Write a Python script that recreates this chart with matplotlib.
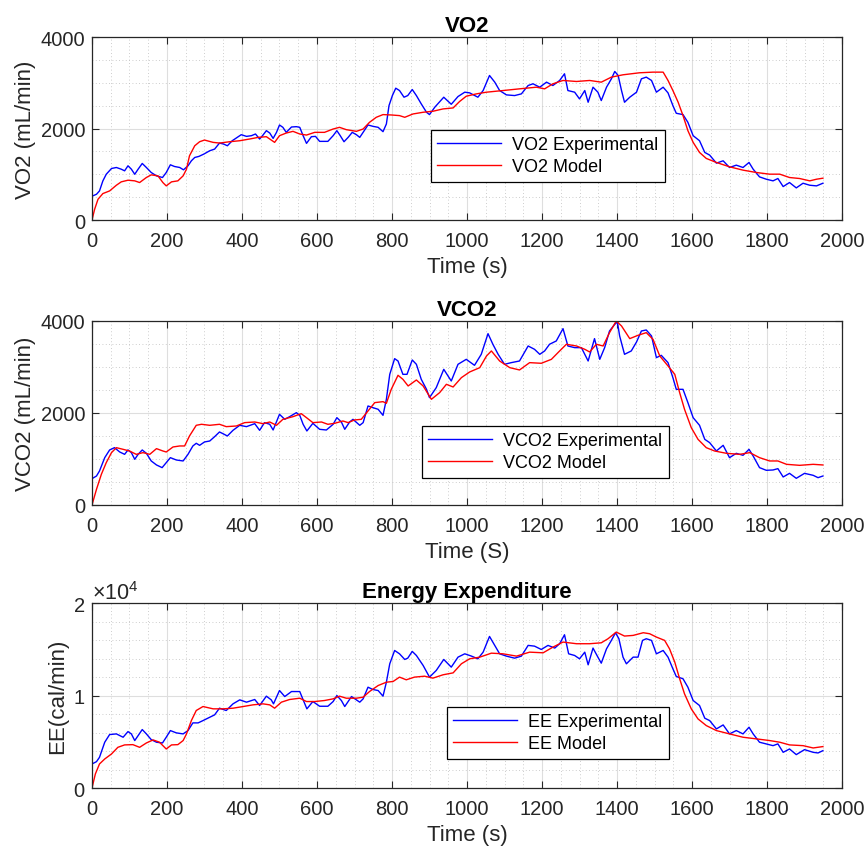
import matplotlib
matplotlib.use("Agg")
import matplotlib.pyplot as plt
from matplotlib.ticker import MultipleLocator, ScalarFormatter

plt.rcParams['font.family'] = ['Liberation Sans', 'DejaVu Sans']
plt.rcParams['mathtext.fontset'] = 'custom'
plt.rcParams['mathtext.rm'] = 'Liberation Sans'
plt.rcParams['mathtext.it'] = 'Liberation Sans'

# ---- VO2 (mL/min) ----
vo2_exp_t = [0, 12, 20, 29, 38, 52, 65, 78, 87, 96, 105, 114, 123, 134, 145, 158, 172, 188, 198, 209,
             220, 234, 244, 256, 265, 274, 285, 298, 314, 327, 340, 351, 361, 374, 387, 398, 412, 425, 436, 447,
             456, 465, 474, 483, 492, 500, 509, 518, 532, 545, 554, 563, 572, 585, 596, 607, 629, 643, 653, 662,
             672, 683, 694, 705, 714, 723, 736, 749, 763, 776, 785, 792, 801, 810, 820, 832, 842, 854, 865, 878,
             892, 900, 914, 938, 958, 976, 994, 1007, 1029, 1043, 1060, 1074, 1087, 1105, 1127, 1145, 1163, 1176, 1194, 1212,
             1229, 1247, 1260, 1269, 1287, 1300, 1314, 1323, 1336, 1349, 1358, 1372, 1385, 1394, 1403, 1412, 1420, 1434, 1452, 1465,
             1478, 1492, 1505, 1523, 1536, 1549, 1558, 1576, 1589, 1603, 1620, 1634, 1647, 1665, 1683, 1700, 1718, 1736, 1752, 1763,
             1780, 1798, 1816, 1829, 1843, 1860, 1878, 1896, 1914, 1932, 1949]
vo2_exp = [520, 563, 636, 855, 1000, 1126, 1148, 1111, 1075, 1185, 1111, 1000, 1111, 1236, 1148, 1038, 965, 929, 1038, 1207,
           1170, 1148, 1097, 1185, 1294, 1367, 1390, 1440, 1514, 1550, 1682, 1660, 1623, 1733, 1806, 1865, 1828, 1843, 1880, 1770,
           1857, 1953, 1901, 1784, 1916, 2077, 2026, 1916, 2033, 2040, 2026, 1843, 1675, 1821, 1828, 1719, 1719, 1843, 1953, 1843,
           1711, 1806, 1916, 1865, 1806, 1916, 2077, 2048, 2026, 1931, 2099, 2501, 2720, 2881, 2830, 2684, 2720, 2852, 2720, 2538,
           2355, 2304, 2465, 2684, 2530, 2699, 2794, 2779, 2684, 2830, 3159, 3013, 2830, 2735, 2720, 2757, 2940, 2977, 2903, 3013,
           2940, 3050, 3196, 2830, 2794, 2647, 2830, 2574, 2903, 2794, 2611, 2903, 3086, 3247, 3159, 2830, 2574, 2684, 2794, 3086,
           3123, 3050, 2794, 2903, 2779, 2501, 2333, 2304, 2135, 1843, 1733, 1477, 1419, 1243, 1294, 1148, 1199, 1148, 1258, 1111,
           943, 892, 856, 907, 731, 819, 702, 804, 760, 746, 804]
vo2_mod_t = [0, 7, 16, 29, 47, 65, 78, 96, 114, 127, 145, 158, 176, 189, 198, 212, 229, 243, 252, 260,
             274, 287, 300, 323, 340, 367, 394, 420, 443, 465, 487, 500, 518, 536, 554, 572, 594, 620, 643, 660,
             678, 705, 723, 740, 758, 776, 798, 820, 834, 856, 883, 909, 936, 963, 980, 998, 1025, 1052, 1096, 1140,
             1185, 1207, 1229, 1256, 1292, 1327, 1358, 1385, 1416, 1460, 1496, 1523, 1536, 1549, 1563, 1576, 1589, 1603, 1620, 1638,
             1665, 1700, 1736, 1772, 1807, 1834, 1860, 1887, 1914, 1932, 1949]
vo2_mod = [0, 234, 453, 578, 636, 760, 834, 870, 856, 819, 929, 987, 965, 819, 746, 834, 856, 965, 1111, 1404,
           1623, 1711, 1748, 1697, 1682, 1711, 1733, 1770, 1806, 1821, 1697, 1843, 1901, 1938, 1880, 1857, 1916, 1916, 1989, 2026,
           1975, 1938, 1989, 2135, 2245, 2304, 2296, 2282, 2245, 2318, 2355, 2377, 2428, 2450, 2589, 2706, 2757, 2794, 2830, 2867,
           2903, 2867, 2977, 3050, 3028, 3050, 3013, 3123, 3174, 3218, 3232, 3232, 3050, 2830, 2574, 2282, 1953, 1697, 1477, 1346,
           1258, 1163, 1090, 1038, 1002, 1002, 929, 907, 856, 892, 914]

# ---- VCO2 (mL/min) ----
vco2_exp_t = [0, 12, 20, 34, 47, 60, 74, 87, 96, 105, 114, 123, 134, 145, 158, 172, 187, 198, 209, 225,
              243, 256, 269, 278, 287, 300, 314, 327, 340, 349, 361, 376, 394, 412, 434, 447, 460, 474, 483, 500,
              514, 527, 545, 554, 563, 573, 589, 607, 625, 643, 653, 665, 674, 687, 696, 714, 723, 736, 749, 763,
              776, 785, 794, 807, 816, 829, 840, 854, 865, 878, 892, 900, 918, 938, 958, 976, 998, 1020, 1038, 1056,
              1069, 1083, 1100, 1118, 1140, 1163, 1180, 1194, 1207, 1220, 1238, 1256, 1269, 1287, 1305, 1323, 1340, 1354, 1367, 1380,
              1394, 1401, 1407, 1420, 1438, 1452, 1465, 1478, 1492, 1505, 1518, 1536, 1549, 1558, 1576, 1589, 1603, 1620, 1634, 1647,
              1665, 1683, 1700, 1718, 1736, 1752, 1763, 1780, 1798, 1816, 1829, 1843, 1860, 1878, 1900, 1923, 1936, 1949]
vco2_exp = [572, 630, 739, 1029, 1196, 1246, 1152, 1101, 1196, 1138, 993, 1101, 1196, 1123, 957, 870, 812, 920, 1029, 978,
            957, 1101, 1283, 1341, 1297, 1370, 1391, 1485, 1587, 1551, 1500, 1623, 1732, 1703, 1768, 1623, 1790, 1754, 1630, 1971,
            1862, 1920, 2007, 1949, 1754, 1609, 1775, 1645, 1630, 1754, 1898, 1804, 1645, 1804, 1862, 1732, 1790, 2152, 2116, 2080,
            1949, 2297, 2840, 3181, 3130, 2840, 2840, 3152, 3058, 2732, 2514, 2333, 2551, 2949, 2695, 3058, 3166, 3036, 3275, 3724,
            3493, 3275, 3058, 3094, 3130, 3456, 3384, 3275, 3348, 3493, 3565, 3833, 3456, 3420, 3420, 3130, 3616, 3166, 3420, 3782,
            3927, 3978, 3674, 3275, 3348, 3543, 3782, 3804, 3674, 3203, 3253, 3094, 2768, 2514, 2514, 2225, 1898, 1732, 1427, 1355,
            1174, 1297, 1029, 1123, 1080, 1210, 1065, 812, 754, 761, 790, 609, 688, 580, 688, 645, 594, 630]
vco2_mod_t = [0, 12, 25, 38, 52, 65, 83, 100, 118, 136, 154, 172, 189, 198, 216, 234, 247, 260, 278, 292,
              314, 340, 358, 385, 407, 434, 456, 474, 492, 509, 536, 558, 572, 589, 612, 629, 647, 669, 683, 700,
              718, 736, 754, 776, 785, 798, 816, 829, 843, 865, 883, 905, 927, 945, 963, 985, 1007, 1034, 1052, 1065,
              1087, 1114, 1140, 1167, 1198, 1225, 1247, 1265, 1292, 1314, 1327, 1345, 1363, 1380, 1398, 1412, 1434, 1456, 1478, 1496,
              1514, 1536, 1554, 1567, 1580, 1598, 1616, 1638, 1660, 1692, 1727, 1754, 1780, 1807, 1829, 1852, 1887, 1923, 1949]
vco2_mod = [0, 341, 667, 920, 1138, 1246, 1210, 1174, 1101, 1138, 1101, 1225, 1174, 1152, 1261, 1283, 1283, 1500, 1732, 1754,
            1732, 1754, 1703, 1717, 1790, 1804, 1768, 1804, 1732, 1862, 1920, 1985, 1898, 1790, 1804, 1754, 1775, 1826, 1790, 1848,
            1862, 2043, 2225, 2246, 2210, 2514, 2819, 2732, 2587, 2717, 2587, 2297, 2442, 2623, 2565, 2768, 2891, 2985, 3239, 3348,
            3130, 2985, 2935, 3094, 3080, 3166, 3348, 3493, 3456, 3384, 3326, 3493, 3456, 3746, 4000, 3891, 3616, 3688, 3746, 3601,
            3239, 3022, 2840, 2442, 2080, 1681, 1427, 1246, 1174, 1123, 1101, 1138, 1029, 957, 957, 884, 862, 884, 870]

# ---- EE (cal/min), in units of 1e4 ----
ee_exp_t = [0, 12, 20, 34, 47, 65, 83, 96, 105, 114, 123, 134, 145, 158, 172, 188, 198, 209, 225, 243,
            256, 269, 283, 296, 314, 327, 340, 358, 376, 394, 412, 434, 447, 465, 478, 484, 500, 514, 532, 554,
            563, 573, 589, 607, 629, 643, 653, 665, 674, 692, 714, 723, 736, 749, 763, 776, 785, 794, 807, 820,
            834, 842, 854, 865, 883, 900, 918, 938, 958, 976, 994, 1012, 1029, 1043, 1060, 1074, 1087, 1105, 1127, 1145,
            1163, 1180, 1198, 1216, 1234, 1247, 1260, 1271, 1287, 1300, 1314, 1323, 1336, 1349, 1358, 1372, 1385, 1396, 1405, 1416,
            1425, 1443, 1456, 1468, 1478, 1492, 1505, 1523, 1536, 1549, 1558, 1576, 1589, 1603, 1620, 1634, 1647, 1665, 1683, 1700,
            1718, 1736, 1752, 1763, 1780, 1798, 1816, 1829, 1843, 1860, 1878, 1900, 1923, 1936, 1949]
ee_exp = [0.260, 0.285, 0.332, 0.495, 0.578, 0.585, 0.549, 0.610, 0.585, 0.513, 0.567, 0.632, 0.585, 0.523, 0.495, 0.487, 0.549, 0.621, 0.596, 0.585,
          0.621, 0.704, 0.704, 0.729, 0.765, 0.791, 0.863, 0.838, 0.910, 0.953, 0.928, 0.957, 0.892, 0.993, 0.953, 0.910, 1.054, 0.989, 1.043, 1.043,
          0.953, 0.856, 0.935, 0.884, 0.884, 0.935, 1.000, 0.946, 0.881, 0.989, 0.928, 0.964, 1.090, 1.065, 1.054, 0.993, 1.144, 1.343, 1.487, 1.451,
          1.390, 1.404, 1.477, 1.433, 1.325, 1.199, 1.271, 1.390, 1.307, 1.415, 1.451, 1.426, 1.397, 1.469, 1.639, 1.542, 1.451, 1.426, 1.404, 1.426,
          1.542, 1.534, 1.498, 1.542, 1.513, 1.560, 1.657, 1.451, 1.433, 1.397, 1.469, 1.332, 1.513, 1.415, 1.350, 1.505, 1.596, 1.679, 1.614, 1.415,
          1.343, 1.415, 1.415, 1.596, 1.614, 1.596, 1.451, 1.487, 1.415, 1.289, 1.206, 1.181, 1.090, 0.946, 0.892, 0.755, 0.729, 0.639, 0.682, 0.585,
          0.621, 0.585, 0.657, 0.585, 0.495, 0.477, 0.458, 0.477, 0.386, 0.422, 0.361, 0.415, 0.386, 0.379, 0.404]
ee_mod_t = [0, 9, 20, 34, 52, 69, 87, 109, 127, 145, 163, 180, 198, 212, 229, 243, 252, 265, 278, 296,
            323, 349, 376, 403, 429, 456, 474, 487, 505, 527, 554, 572, 594, 620, 643, 660, 678, 705, 723, 740,
            763, 785, 803, 820, 838, 860, 887, 909, 936, 963, 985, 1007, 1034, 1065, 1096, 1132, 1167, 1203, 1229, 1256,
            1292, 1327, 1358, 1376, 1398, 1420, 1443, 1470, 1487, 1505, 1527, 1540, 1554, 1567, 1580, 1598, 1616, 1638, 1665, 1700,
            1736, 1772, 1807, 1834, 1860, 1896, 1923, 1949]
ee_mod = [0, 0.152, 0.260, 0.314, 0.368, 0.440, 0.466, 0.469, 0.440, 0.487, 0.520, 0.495, 0.422, 0.466, 0.469, 0.513, 0.585, 0.729, 0.838, 0.881,
          0.856, 0.856, 0.863, 0.881, 0.899, 0.910, 0.899, 0.863, 0.928, 0.957, 0.971, 0.935, 0.935, 0.946, 0.964, 0.993, 0.971, 0.971, 0.982, 1.043,
          1.108, 1.144, 1.152, 1.199, 1.170, 1.199, 1.209, 1.188, 1.224, 1.245, 1.343, 1.397, 1.415, 1.458, 1.451, 1.426, 1.469, 1.462, 1.523, 1.578,
          1.560, 1.560, 1.570, 1.614, 1.686, 1.643, 1.650, 1.679, 1.668, 1.632, 1.596, 1.505, 1.361, 1.181, 1.018, 0.856, 0.747, 0.675, 0.621, 0.585,
          0.549, 0.531, 0.513, 0.495, 0.466, 0.458, 0.433, 0.448]
ee_exp = [v * 1e4 for v in ee_exp]
ee_mod = [v * 1e4 for v in ee_mod]

panels = [
    dict(title='VO2', ylabel='VO2 (mL/min)', xlabel='Time (s)',
         exp=(vo2_exp_t, vo2_exp), mod=(vo2_mod_t, vo2_mod),
         names=('VO2 Experimental', 'VO2 Model'),
         ylim=(0, 4000), ymaj=2000, ymin=500, leg=(0.452, 0.492)),
    dict(title='VCO2', ylabel='VCO2 (mL/min)', xlabel='Time (S)',
         exp=(vco2_exp_t, vco2_exp), mod=(vco2_mod_t, vco2_mod),
         names=('VCO2 Experimental', 'VCO2 Model'),
         ylim=(0, 4000), ymaj=2000, ymin=500, leg=(0.44, 0.429)),
    dict(title='Energy Expenditure', ylabel='EE(cal/min)', xlabel='Time (s)',
         exp=(ee_exp_t, ee_exp), mod=(ee_mod_t, ee_mod),
         names=('EE Experimental', 'EE Model'),
         ylim=(0, 20000), ymaj=10000, ymin=2000, leg=(0.473, 0.438)),
]

fig = plt.figure(figsize=(8.67, 8.54), dpi=100)
boxes = [(0.1061, 0.7412, 0.8651, 0.2143),
         (0.1061, 0.4075, 0.8651, 0.2155),
         (0.1061, 0.0761, 0.8651, 0.2166)]

edge = '#262626'
for box, p in zip(boxes, panels):
    ax = fig.add_axes(box)
    ax.plot(p['exp'][0], p['exp'][1], color='#0000ff', lw=1.0, label=p['names'][0])
    ax.plot(p['mod'][0], p['mod'][1], color='#ff0000', lw=1.0, label=p['names'][1])
    ax.set_xlim(0, 2000)
    ax.set_ylim(*p['ylim'])
    ax.xaxis.set_major_locator(MultipleLocator(200))
    ax.xaxis.set_minor_locator(MultipleLocator(50))
    ax.yaxis.set_major_locator(MultipleLocator(p['ymaj']))
    ax.yaxis.set_minor_locator(MultipleLocator(p['ymin']))
    ax.grid(which='major', color='#dedede', lw=0.8)
    ax.grid(which='minor', color='#bdbdbd', lw=0.6, ls=(0, (1, 3)))
    ax.set_axisbelow(True)
    ax.tick_params(which='major', direction='in', length=5, width=0.8, top=True, right=True,
                   labelsize=14.5, color=edge, labelcolor=edge)
    ax.tick_params(axis='x', pad=8)
    ax.tick_params(axis='y', pad=5)
    ax.tick_params(which='minor', length=0)
    for s in ax.spines.values():
        s.set_color(edge)
        s.set_linewidth(0.9)
    ax.set_title(p['title'], fontsize=16, fontweight='bold', pad=4)
    ax.set_xlabel(p['xlabel'], fontsize=16, color=edge, labelpad=4.5)
    ax.set_ylabel(p['ylabel'], fontsize=16, color=edge, labelpad=3)
    if p['ylim'][1] > 10000:
        fmt = ScalarFormatter(useMathText=True)
        fmt.set_powerlimits((0, 0))
        ax.yaxis.set_major_formatter(fmt)
        ax.yaxis.get_offset_text().set_fontsize(15.5)
        ax.yaxis.get_offset_text().set_color(edge)
    leg = ax.legend(loc='upper left', bbox_to_anchor=p['leg'], fontsize=13, handlelength=3.55,
                    fancybox=False, framealpha=1, edgecolor='#000000', borderpad=0.35,
                    labelspacing=0.28, handletextpad=0.6, borderaxespad=0)
    leg.get_frame().set_linewidth(0.9)

fig.savefig('out.png', dpi=100)
